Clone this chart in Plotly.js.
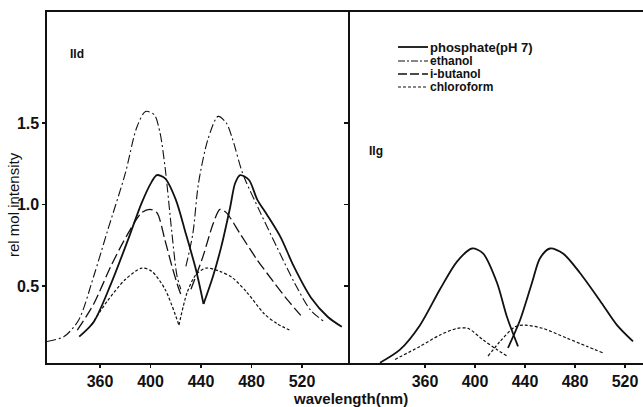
<!DOCTYPE html>
<html>
<head>
<meta charset="utf-8">
<script src="https://cdn.plot.ly/plotly-3.0.1.min.js"></script>
<style>html,body{margin:0;padding:0;background:#fff;}#chart{width:643px;height:407px;}</style>
</head>
<body>
<div id="chart"></div>
<script>
// ---- Panel IId (left) ----
const phosExD_x = [343.5, 355, 368.5, 382, 393, 401, 405, 411.5, 420, 428, 436, 442];
const phosExD_y = [0.19, 0.28, 0.51, 0.78, 1.01, 1.14, 1.18, 1.16, 1.03, 0.82, 0.60, 0.39];
const phosEmD_x = [442, 449.5, 456, 463, 467, 471, 478, 484.5, 492, 503, 513.5, 527, 540.5, 551.5];
const phosEmD_y = [0.39, 0.56, 0.74, 0.98, 1.13, 1.18, 1.15, 1.03, 0.94, 0.80, 0.62, 0.43, 0.31, 0.25];

const ethExD_x = [318, 331.5, 343, 355, 366, 380, 389, 396, 403, 407.5, 411.5, 417, 421, 424];
const ethExD_y = [0.16, 0.19, 0.29, 0.56, 0.84, 1.19, 1.47, 1.57, 1.55, 1.44, 1.23, 0.82, 0.56, 0.48];
const ethEmD_x = [428, 433.5, 438, 445.5, 453.5, 460, 465, 473, 487, 500, 514, 527, 538];
const ethEmD_y = [0.62, 0.82, 1.13, 1.40, 1.54, 1.50, 1.40, 1.19, 0.95, 0.74, 0.52, 0.35, 0.28];

const butExD_x = [342, 355, 368.5, 382, 393, 399.5, 405, 411.5, 417, 422.5, 425];
const butExD_y = [0.23, 0.39, 0.62, 0.82, 0.95, 0.97, 0.95, 0.78, 0.62, 0.48, 0.43];
const butEmD_x = [432, 441.5, 449.5, 455, 460, 471, 484.5, 498, 509, 519];
const butEmD_y = [0.48, 0.68, 0.88, 0.97, 0.95, 0.82, 0.66, 0.52, 0.41, 0.32];

const chlExD_x = [353, 366, 380, 393, 401, 411.5, 422.5];
const chlExD_y = [0.26, 0.41, 0.54, 0.61, 0.59, 0.48, 0.26];
const chlEmD_x = [422.5, 429, 436, 444, 455, 465, 476.5, 490, 500, 510];
const chlEmD_y = [0.26, 0.46, 0.57, 0.61, 0.59, 0.55, 0.46, 0.33, 0.27, 0.23];

// ---- Panel IIg (right) ----
const phosExG_x = [324, 340, 356, 372, 385.6, 397.6, 406.4, 417.6, 425.6, 434.4];
const phosExG_y = [0.03, 0.11, 0.26, 0.48, 0.65, 0.73, 0.70, 0.52, 0.31, 0.13];
const phosEmG_x = [426.4, 436, 445.6, 452, 460, 470.4, 484, 500, 513.6, 526.4];
const phosEmG_y = [0.12, 0.29, 0.52, 0.67, 0.73, 0.70, 0.58, 0.41, 0.26, 0.16];
const chlExG_x = [336, 356, 372, 385.6, 394.4, 406.4, 417.6, 425.6];
const chlExG_y = [0.05, 0.13, 0.20, 0.24, 0.24, 0.17, 0.11, 0.07];
const chlEmG_x = [410.4, 420, 432, 440, 454.4, 473.6, 489.6, 502.4];
const chlEmG_y = [0.07, 0.16, 0.25, 0.26, 0.24, 0.18, 0.13, 0.09];

const xTicks = [360, 400, 440, 480, 520];
const yTicks = [0.5, 1.0, 1.5];
const legendNames = ["phosphate(pH 7)", "ethanol", "i-butanol", "chloroform"];
const xTitle = "wavelength(nm)";
const yTitle = "rel mol intensity";
const panelLabels = ["IId", "IIg"];

// ---- styles ----
const INK = "#111";
const FONT = "Liberation Sans, Arial, sans-serif";
const styles = {
  phos: {color: INK, width: 1.8, dash: "solid"},
  eth:  {color: INK, width: 1.1, dash: "9px,3px,2px,3px"},
  but:  {color: INK, width: 1.3, dash: "11px,4px"},
  chl:  {color: INK, width: 1.2, dash: "3px,2px"}
};
function tr(x, y, st, xa, ya) {
  return {x: x, y: y, type: "scatter", mode: "lines", xaxis: xa, yaxis: ya,
          line: Object.assign({shape: "spline", smoothing: 0.8}, styles[st]),
          hoverinfo: "skip", showlegend: false};
}
const data = [
  tr(ethExD_x, ethExD_y, "eth", "x", "y"), tr(ethEmD_x, ethEmD_y, "eth", "x", "y"),
  tr(butExD_x, butExD_y, "but", "x", "y"), tr(butEmD_x, butEmD_y, "but", "x", "y"),
  tr(chlExD_x, chlExD_y, "chl", "x", "y"), tr(chlEmD_x, chlEmD_y, "chl", "x", "y"),
  tr(phosExD_x, phosExD_y, "phos", "x", "y"), tr(phosEmD_x, phosEmD_y, "phos", "x", "y"),
  tr(chlExG_x, chlExG_y, "chl", "x2", "y2"), tr(chlEmG_x, chlEmG_y, "chl", "x2", "y2"),
  tr(phosExG_x, phosExG_y, "phos", "x2", "y2"), tr(phosEmG_x, phosEmG_y, "phos", "x2", "y2")
];

// pixel -> paper helpers (plot area: x 47..643, y 12..363)
const L = 47, T = 12, W = 596, H = 351;
const px = v => (v - L) / W;
const py = v => (T + H - v) / H;
const split = px(350);

const tickFont = {family: FONT, size: 16, color: INK, weight: "bold"};
const axBase = {showgrid: false, zeroline: false, showline: true, linecolor: INK, linewidth: 1.6,
                ticks: "outside", ticklen: 3, tickwidth: 1.2, tickcolor: INK, tickfont: tickFont};

const legendKeys = ["phos", "eth", "but", "chl"];
const legendRows = [47, 61, 74, 87];
const shapes = legendKeys.map((k, i) => ({
  type: "line", xref: "paper", yref: "paper",
  x0: px(398), x1: px(428), y0: py(legendRows[i]), y1: py(legendRows[i]),
  line: {color: INK, width: styles[k].width, dash: k === "eth" ? "7px,2px,2px,2px" : (k === "but" ? "9px,3px" : styles[k].dash)}
}));

const annotations = [
  {text: xTitle, xref: "paper", yref: "paper", x: px(350), y: py(398), showarrow: false,
   xanchor: "center", yanchor: "middle", font: {family: FONT, size: 15, color: INK, weight: "bold"}},
  {text: yTitle, xref: "paper", yref: "paper", x: px(13), y: py(205), showarrow: false, textangle: -90,
   xanchor: "center", yanchor: "middle", font: {family: FONT, size: 15, color: INK, weight: "normal"}},
  {text: panelLabels[0], xref: "paper", yref: "paper", x: px(68), y: py(54), showarrow: false,
   xanchor: "left", yanchor: "middle", font: {family: FONT, size: 12, color: INK, weight: "bold"}},
  {text: panelLabels[1], xref: "paper", yref: "paper", x: px(367), y: py(151), showarrow: false,
   xanchor: "left", yanchor: "middle", font: {family: FONT, size: 12, color: INK, weight: "bold"}}
].concat(legendNames.map((n, i) => ({
  text: n, xref: "paper", yref: "paper", x: px(429), y: py(legendRows[i]), showarrow: false,
  xanchor: "left", yanchor: "middle", borderpad: 0,
  font: {family: FONT, size: i === 0 ? 13 : 12, color: INK, weight: "bold"}
})));

const layout = {
  width: 643, height: 407,
  margin: {l: L, r: 0, t: T, b: 407 - T - H, pad: 0},
  paper_bgcolor: "#fff", plot_bgcolor: "#fff",
  showlegend: false,
  xaxis: Object.assign({}, axBase, {domain: [0, split], range: [318, 558], tickvals: xTicks, mirror: true, anchor: "y"}),
  yaxis: Object.assign({}, axBase, {domain: [0, 1], range: [0.028, 2.18], tickvals: yTicks,
                                    ticktext: yTicks.map(v => v.toFixed(1)), mirror: false, anchor: "x"}),
  xaxis2: Object.assign({}, axBase, {domain: [split, 1], range: [300, 534.4], tickvals: xTicks, mirror: true, anchor: "y2"}),
  yaxis2: Object.assign({}, axBase, {domain: [0, 1], range: [0.028, 2.18], tickvals: yTicks,
                                     showticklabels: false, anchor: "x2", ticklen: 4}),
  shapes: shapes,
  annotations: annotations
};

Plotly.newPlot("chart", data, layout, {staticPlot: true, displayModeBar: false});
</script>
</body>
</html>
